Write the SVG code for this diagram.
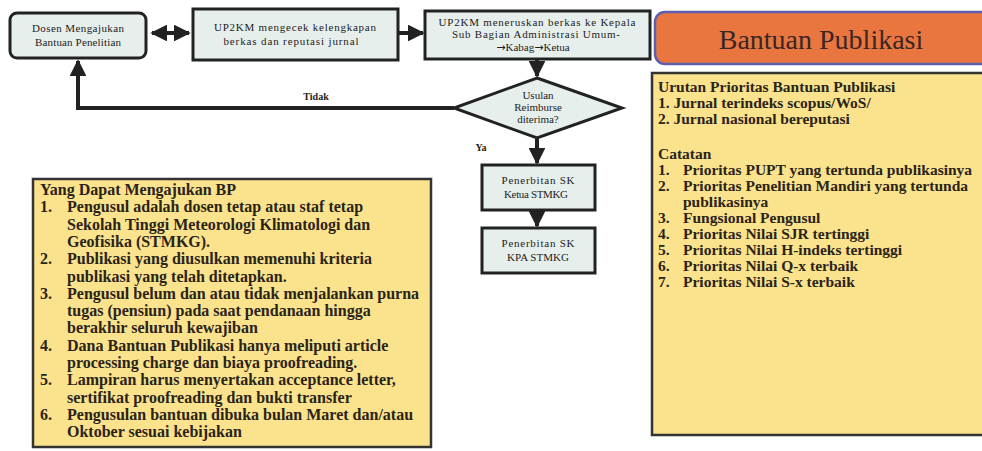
<svg xmlns="http://www.w3.org/2000/svg" width="982" height="451" viewBox="0 0 982 451">
<style>
.flow{fill:#e7efed;stroke:#222;stroke-width:3}
.ft{font-family:"Liberation Serif",serif;font-size:11px;fill:#222;text-anchor:middle}
.ar{font-family:"DejaVu Sans",sans-serif;font-size:11px}
.note{fill:#fbe28c;stroke:#333;stroke-width:2.5}
.lt{font-family:"Liberation Serif",serif;font-size:16px;font-weight:bold;fill:#2a2418}
.rt{font-family:"Liberation Serif",serif;font-size:15.5px;font-weight:bold;fill:#2a2418}
.con{stroke:#222;stroke-width:4;fill:none}
.lbl{font-family:"Liberation Serif",serif;font-size:10px;font-weight:bold;fill:#222;text-anchor:middle}
</style>
<defs>
<marker id="ah" viewBox="0 0 10 10" refX="9" refY="5" markerWidth="4.2" markerHeight="4.2" orient="auto-start-reverse" markerUnits="strokeWidth">
<path d="M0,0 L10,5 L0,10 z" fill="#222"/>
</marker>
</defs>
<rect width="982" height="451" fill="#fff"/>
<g id="connectors">
<line class="con" x1="152" y1="33" x2="189" y2="33" marker-start="url(#ah)" marker-end="url(#ah)"/>
<line class="con" x1="399" y1="33" x2="423" y2="33" marker-end="url(#ah)"/>
<line class="con" x1="537" y1="60" x2="537" y2="76" marker-end="url(#ah)"/>
<polyline class="con" points="454,108 78,108 78,61" stroke-width="3.5" marker-end="url(#ah)"/>
<line class="con" x1="537" y1="139" x2="537" y2="163" marker-end="url(#ah)"/>
<line class="con" x1="537" y1="211" x2="537" y2="226" marker-end="url(#ah)"/>
<text class="lbl" x="316" y="100">Tidak</text>
<text class="lbl" x="481" y="151">Ya</text>
</g>
<g id="dosen">
<rect class="flow" x="10" y="13" width="136" height="45" rx="7"/>
<text class="ft" x="78" y="32" textLength="92" lengthAdjust="spacing">Dosen Mengajukan</text>
<text class="ft" x="78" y="46" textLength="86" lengthAdjust="spacing">Bantuan Penelitian</text>
</g>
<g id="cek">
<rect class="flow" x="193" y="9" width="205" height="51"/>
<text class="ft" x="295" y="31" textLength="162" lengthAdjust="spacing">UP2KM mengecek kelengkapan</text>
<text class="ft" x="291" y="45" textLength="135" lengthAdjust="spacing">berkas dan reputasi jurnal</text>
</g>
<g id="teruskan">
<rect class="flow" x="425" y="11" width="225" height="48"/>
<text class="ft" x="537" y="26" textLength="197" lengthAdjust="spacing">UP2KM meneruskan berkas ke Kepala</text>
<text class="ft" x="536" y="38" textLength="168" lengthAdjust="spacing">Sub Bagian Administrasi Umum-</text>
<text class="ft" x="533" y="51"><tspan class="ar">→</tspan>Kabag<tspan class="ar">→</tspan>Ketua</text>
</g>
<g id="usulan">
<polygon class="flow" points="537,78 622,108 537,138 454,108"/>
<text class="ft" x="538" y="99" font-size="9.5">Usulan</text>
<text class="ft" x="538" y="111" font-size="9.5">Reimburse</text>
<text class="ft" x="538" y="123" font-size="9.5">diterima?</text>
</g>
<g id="sk-ketua">
<rect class="flow" x="482" y="165" width="113" height="45"/>
<text class="ft" x="538" y="184" textLength="73" lengthAdjust="spacing">Penerbitan SK</text>
<text class="ft" x="536" y="198" textLength="64" lengthAdjust="spacing">Ketua STMKG</text>
</g>
<g id="sk-kpa">
<rect class="flow" x="482" y="228" width="113" height="45"/>
<text class="ft" x="538" y="247" textLength="73" lengthAdjust="spacing">Penerbitan SK</text>
<text class="ft" x="538" y="261" textLength="62" lengthAdjust="spacing">KPA STMKG</text>
</g>
<g id="header">
<rect x="655" y="12" width="345" height="52" rx="10" fill="#e9763f" stroke="#5d5fae" stroke-width="2.5"/>
<text x="821" y="49" font-family="Liberation Serif,serif" font-size="28" fill="#3a2626" text-anchor="middle">Bantuan Publikasi</text>
</g>
<g id="syarat">
<rect class="note" x="33" y="179" width="398" height="268"/>
<text class="lt" x="40" y="195">Yang Dapat Mengajukan BP</text>
<text class="lt" x="40" y="212">1.</text><text class="lt" x="67" y="212">Pengusul adalah dosen tetap atau staf tetap</text>
<text class="lt" x="67" y="230">Sekolah Tinggi Meteorologi Klimatologi dan</text>
<text class="lt" x="67" y="247">Geofisika (STMKG).</text>
<text class="lt" x="40" y="264">2.</text><text class="lt" x="67" y="264">Publikasi yang diusulkan memenuhi kriteria</text>
<text class="lt" x="67" y="282">publikasi yang telah ditetapkan.</text>
<text class="lt" x="40" y="299">3.</text><text class="lt" x="67" y="299">Pengusul belum dan atau tidak menjalankan purna</text>
<text class="lt" x="67" y="316">tugas (pensiun) pada saat pendanaan hingga</text>
<text class="lt" x="67" y="333">berakhir seluruh kewajiban</text>
<text class="lt" x="40" y="351">4.</text><text class="lt" x="67" y="351">Dana Bantuan Publikasi hanya meliputi article</text>
<text class="lt" x="67" y="368">processing charge dan biaya proofreading.</text>
<text class="lt" x="40" y="385">5.</text><text class="lt" x="67" y="385">Lampiran harus menyertakan acceptance letter,</text>
<text class="lt" x="67" y="403">sertifikat proofreading dan bukti transfer</text>
<text class="lt" x="40" y="420">6.</text><text class="lt" x="67" y="420">Pengusulan bantuan dibuka bulan Maret dan/atau</text>
<text class="lt" x="67" y="437">Oktober sesuai kebijakan</text>
</g>
<g id="prioritas">
<rect class="note" x="652" y="73" width="345" height="362"/>
<text class="rt" x="658" y="92">Urutan Prioritas Bantuan Publikasi</text>
<text class="rt" x="658" y="108">1. Jurnal terindeks scopus/WoS/</text>
<text class="rt" x="658" y="124">2. Jurnal nasional bereputasi</text>
<text class="rt" x="658" y="159">Catatan</text>
<text class="rt" x="658" y="175">1.</text><text class="rt" x="683" y="175">Prioritas PUPT yang tertunda publikasinya</text>
<text class="rt" x="658" y="191">2.</text><text class="rt" x="683" y="191">Prioritas Penelitian Mandiri yang tertunda</text>
<text class="rt" x="683" y="207">publikasinya</text>
<text class="rt" x="658" y="223">3.</text><text class="rt" x="683" y="223">Fungsional Pengusul</text>
<text class="rt" x="658" y="239">4.</text><text class="rt" x="683" y="239">Prioritas Nilai SJR tertinggi</text>
<text class="rt" x="658" y="255">5.</text><text class="rt" x="683" y="255">Prioritas Nilai H-indeks tertinggi</text>
<text class="rt" x="658" y="271">6.</text><text class="rt" x="683" y="271">Prioritas Nilai Q-x terbaik</text>
<text class="rt" x="658" y="287">7.</text><text class="rt" x="683" y="287">Prioritas Nilai S-x terbaik</text>
</g>
</svg>
